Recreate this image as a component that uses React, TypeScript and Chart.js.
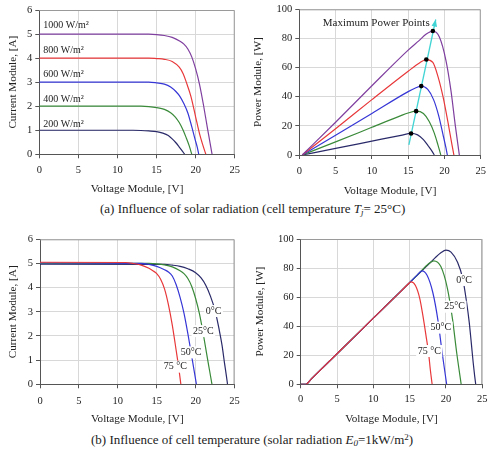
import React, { useEffect, useRef } from "react";
import { Chart, registerables } from "chart.js";
Chart.register(...registerables);

// ---------------- (a) Current vs Voltage, solar radiation ----------------
const A_IV_V1000 = [0, 14, 15, 16, 17, 18, 18.5, 19, 19.5, 20, 20.5, 21, 21.5, 21.8, 22.1];
const A_IV_I1000 = [5.0, 5.0, 4.98, 4.94, 4.86, 4.7, 4.58, 4.38, 4.05, 3.55, 2.9, 2.05, 1.1, 0.55, 0];
const A_IV_V800 = [0, 14, 15, 16, 17, 17.9, 18.4, 18.8, 19.4, 20.0, 20.5, 20.9, 21.3];
const A_IV_I800 = [4.0, 4.0, 3.98, 3.95, 3.86, 3.62, 3.35, 3.0, 2.4, 1.55, 0.85, 0.4, 0];
const A_IV_V600 = [0, 14, 15, 16, 16.8, 17.5, 18.0, 18.5, 19.0, 19.5, 19.9, 20.2, 20.4];
const A_IV_I600 = [3.0, 3.0, 2.97, 2.92, 2.8, 2.6, 2.4, 2.1, 1.72, 1.15, 0.65, 0.3, 0];
const A_IV_V400 = [0, 13, 14, 15, 16, 16.8, 17.4, 17.9, 18.4, 18.8, 19.2, 19.5];
const A_IV_I400 = [2.0, 2.0, 1.98, 1.94, 1.87, 1.73, 1.55, 1.32, 1.0, 0.68, 0.33, 0];
const A_IV_V200 = [0, 12, 13, 14, 15, 15.8, 16.5, 17.0, 17.5, 17.9, 18.3, 18.6];
const A_IV_I200 = [1.0, 1.0, 0.99, 0.97, 0.94, 0.88, 0.78, 0.64, 0.47, 0.3, 0.13, 0];
const A_IV_LABELS = ["1000 W/m²", "800 W/m²", "600 W/m²", "400 W/m²", "200 W/m²"];
const A_IV_LABEL_X = [0.5, 0.5, 0.5, 0.5, 0.5];
const A_IV_LABEL_Y = [5.38, 4.34, 3.34, 2.3, 1.26];

// ---------------- (a) Power vs Voltage, solar radiation ----------------
const A_PV_V1000 = [0.4, 5, 10, 15, 16.5, 17.5, 18.4, 19.3, 20.2, 20.9, 21.5, 22.05];
const A_PV_P1000 = [0, 22.5, 47.5, 72, 78.5, 83, 85, 81, 65, 44, 20, 0];
const A_PV_V800 = [0.4, 5, 10, 15, 16.5, 17.5, 18.4, 19.1, 19.8, 20.5, 21.0, 21.3];
const A_PV_P800 = [0, 18, 38, 57.5, 63, 65.5, 63.5, 54, 40, 22, 8, 0];
const A_PV_V600 = [0.4, 5, 10, 15, 16, 16.8, 17.7, 18.5, 19.2, 19.8, 20.2, 20.4];
const A_PV_P600 = [0, 13.5, 28.5, 43.5, 46, 47.3, 45, 38, 27, 14, 5, 0];
const A_PV_V400 = [0.4, 5, 10, 14, 15, 16.1, 17.1, 17.9, 18.6, 19.1, 19.5];
const A_PV_P400 = [0, 9, 19, 27, 28.8, 30.1, 28.5, 23, 15, 7, 0];
const A_PV_V200 = [0.4, 5, 10, 14, 15.4, 16.3, 17.1, 17.8, 18.3, 18.6];
const A_PV_P200 = [0, 4.5, 9.5, 13.5, 14.8, 13.8, 10.5, 6, 2.5, 0];
const MPP_V = [15.4, 16.1, 16.8, 17.5, 18.4];
const MPP_P = [14.8, 30.1, 47.3, 65.5, 85.1];
const MPP_ARROW_V = [15.1, 18.8];
const MPP_ARROW_P = [7, 93];
const A_PV_LABELS = ["Maximum Power Points"];
const A_PV_LABEL_X = [10.6];
const A_PV_LABEL_Y = [90.8];

// ---------------- (b) Current vs Voltage, cell temperature ----------------
const B_IV_V0 = [0, 16, 17, 18, 19, 20, 20.7, 21.3, 21.9, 22.5, 23.0, 23.4, 23.7, 23.95, 24.1];
const B_IV_I0 = [4.97, 4.96, 4.93, 4.88, 4.78, 4.62, 4.4, 4.1, 3.65, 3.05, 2.3, 1.6, 0.9, 0.35, 0];
const B_IV_V25 = [0, 14, 15, 16, 17, 18, 18.5, 19, 19.5, 20, 20.5, 21, 21.5, 21.8, 22.1];
const B_IV_I25 = [5.0, 5.0, 4.98, 4.94, 4.86, 4.7, 4.58, 4.38, 4.05, 3.55, 2.9, 2.05, 1.1, 0.55, 0];
const B_IV_V50 = [0, 13, 14, 15, 16, 16.5, 17, 17.5, 18, 18.5, 19, 19.5, 19.8, 20.1];
const B_IV_I50 = [5.02, 5.0, 4.96, 4.88, 4.74, 4.65, 4.48, 4.12, 3.6, 2.95, 2.1, 1.15, 0.58, 0];
const B_IV_V75 = [0, 11, 12, 13, 14, 14.5, 15, 15.5, 16, 16.5, 17, 17.5, 17.8, 18.1];
const B_IV_I75 = [5.05, 5.04, 5.0, 4.93, 4.8, 4.7, 4.58, 4.35, 3.95, 3.3, 2.45, 1.4, 0.75, 0];
const B_IV_LABELS = ["0°C", "25°C", "50°C", "75 °C"];
const B_IV_LABEL_X = [22.3, 21.0, 19.4, 17.4];
const B_IV_LABEL_Y = [3.03, 2.2, 1.32, 0.73];

// ---------------- (b) Power vs Voltage, cell temperature ----------------
const B_PV_V0 = [0, 0.7, 1.5, 5, 10, 15, 17.5, 18.5, 19.3, 20.0, 20.7, 21.6, 22.3, 22.8, 23.2, 23.5, 23.75, 23.95, 24.1];
const B_PV_P0 = [0, 0, 3.9, 21, 45.5, 70, 82, 87, 90.5, 92.3, 91, 84, 73, 58, 43, 28, 15, 6, 0];
const B_PV_V25 = [0, 0.7, 1.5, 5, 10, 15, 16.5, 17.5, 18.3, 19.3, 20.2, 20.9, 21.5, 22.1];
const B_PV_P25 = [0, 0, 3.9, 21, 45.5, 70, 77.5, 82.5, 85, 81, 66, 45, 21, 0];
const B_PV_V50 = [0, 0.7, 1.5, 5, 10, 15, 16, 16.7, 17.4, 18.2, 18.9, 19.5, 20.1];
const B_PV_P50 = [0, 0, 3.9, 21, 45.5, 70, 75, 78, 75, 63, 44, 21, 0];
const B_PV_V75 = [0, 0.7, 1.5, 5, 10, 14, 14.7, 15.2, 15.8, 16.4, 16.9, 17.3, 17.6, 17.85, 18.1];
const B_PV_P75 = [0, 0, 3.9, 21, 45.5, 65, 68.5, 70.5, 68, 59, 45, 32, 22, 10, 0];
const B_PV_LABELS = ["0°C", "25°C", "50°C", "75 °C"];
const B_PV_LABEL_X = [22.5, 21.2, 19.3, 17.7];
const B_PV_LABEL_Y = [71.8, 53.4, 39, 22.9];

// ---------------- styling ----------------
const PURPLE = "#7f3f9f";
const RED = "#e8383a";
const BLUE = "#3636d6";
const GREEN = "#3a8a3a";
const NAVY = "#2a2a6a";
const CYAN = "#40d4d4";
const SERIF = "'Liberation Serif', 'Times New Roman', serif";
const TEXT = "#222";

const pts = (xs: number[], ys: number[]) => xs.map((x, i) => ({ x, y: ys[i] }));

const curve = (xs: number[], ys: number[], color: string) => ({
  data: pts(xs, ys),
  showLine: true,
  borderColor: color,
  backgroundColor: color,
  borderWidth: 1.2,
  pointRadius: 0,
  cubicInterpolationMode: "monotone",
  fill: false,
});

const decoPlugin = {
  id: "panelDeco",
  beforeDatasetsDraw(chart: any) {
    const { ctx, chartArea: a } = chart;
    ctx.save();
    ctx.strokeStyle = "#9a9a9a";
    ctx.lineWidth = 1;
    ctx.beginPath();
    ctx.moveTo(a.left, a.top + 0.5);
    ctx.lineTo(a.right - 0.5, a.top + 0.5);
    ctx.lineTo(a.right - 0.5, a.bottom);
    ctx.stroke();
    ctx.restore();
  },
  afterDatasetsDraw(chart: any, _args: any, opts: any) {
    const { ctx } = chart;
    const xs = chart.scales.x;
    const ys = chart.scales.y;
    ctx.save();
    if (opts.arrow) {
      const [x0, x1] = opts.arrow.x;
      const [y0, y1] = opts.arrow.y;
      const px0 = xs.getPixelForValue(x0), py0 = ys.getPixelForValue(y0);
      const px1 = xs.getPixelForValue(x1), py1 = ys.getPixelForValue(y1);
      const ang = Math.atan2(py1 - py0, px1 - px0);
      const L = 7, W = 2.8;
      ctx.fillStyle = CYAN;
      ctx.beginPath();
      ctx.moveTo(px1, py1);
      ctx.lineTo(px1 - L * Math.cos(ang) + W * Math.sin(ang), py1 - L * Math.sin(ang) - W * Math.cos(ang));
      ctx.lineTo(px1 - L * Math.cos(ang) - W * Math.sin(ang), py1 - L * Math.sin(ang) + W * Math.cos(ang));
      ctx.closePath();
      ctx.fill();
    }
    (opts.labels || []).forEach((lb: any) => {
      const px = xs.getPixelForValue(lb.x);
      const py = ys.getPixelForValue(lb.y);
      ctx.font = `${lb.size}px ${SERIF}`;
      ctx.textBaseline = "middle";
      ctx.textAlign = lb.align;
      const w = ctx.measureText(lb.text).width;
      if (lb.bg) {
        const left = lb.align === "left" ? px : px - w / 2;
        ctx.fillStyle = "#fff";
        ctx.fillRect(left - 1.5, py - lb.size / 2 - 1, w + 3, lb.size + 2);
      }
      ctx.fillStyle = TEXT;
      ctx.fillText(lb.text, px, py);
    });
    ctx.restore();
  },
};

type PanelProps = {
  left: number; top: number; width: number; height: number;
  area: { l: number; r: number; t: number; b: number };
  datasets: any[]; yMax: number; yStep: number; yTitle: string;
  tickPadX: number; titlePadX: number; titlePadY: number;
  labels: any[]; arrow?: { x: number[]; y: number[] };
};

function Panel(p: PanelProps) {
  const ref = useRef<HTMLCanvasElement | null>(null);
  useEffect(() => {
    if (!ref.current) return;
    const tickFont = { family: SERIF, size: 10.5 };
    const titleFont = { family: SERIF, size: 11.2 };
    const chart = new Chart(ref.current, {
      type: "scatter",
      data: { datasets: p.datasets },
      options: {
        animation: false,
        responsive: false,
        devicePixelRatio: 1,
        layout: { padding: { left: 0, right: p.width - p.area.r, top: p.area.t, bottom: 0 } },
        plugins: {
          legend: { display: false },
          tooltip: { enabled: false },
          panelDeco: { labels: p.labels, arrow: p.arrow },
        } as any,
        scales: {
          x: {
            type: "linear",
            min: 0,
            max: 25,
            ticks: { stepSize: 5, padding: p.tickPadX, font: tickFont, color: TEXT },
            grid: { color: "#d8d8d8", tickColor: "#555", tickLength: 4 },
            border: { color: "#555" },
            title: {
              display: true, text: "Voltage Module, [V]", font: titleFont, color: TEXT,
              padding: { top: 0, bottom: p.titlePadX },
            },
            afterFit: (s: any) => { s.height = p.height - p.area.b; },
          },
          y: {
            type: "linear",
            min: 0,
            max: p.yMax,
            ticks: { stepSize: p.yStep, padding: 3, font: tickFont, color: TEXT },
            grid: { color: "#d8d8d8", tickColor: "#555", tickLength: 4 },
            border: { color: "#555" },
            title: {
              display: true, text: p.yTitle, font: titleFont, color: TEXT,
              padding: { top: p.titlePadY, bottom: 0 },
            },
            afterFit: (s: any) => { s.width = p.area.l; },
          },
        },
      } as any,
      plugins: [decoPlugin],
    });
    return () => chart.destroy();
  }, []);
  return (
    <canvas
      ref={ref}
      width={p.width}
      height={p.height}
      style={{ position: "absolute", left: p.left, top: p.top, width: p.width, height: p.height }}
    />
  );
}

const mkLabels = (texts: string[], xs: number[], ys: number[], align: string, bg: boolean, size: number) =>
  texts.map((t, i) => ({ text: t, x: xs[i], y: ys[i], align, bg, size }));

export default function App() {
  const aIV = [
    curve(A_IV_V1000, A_IV_I1000, PURPLE),
    curve(A_IV_V800, A_IV_I800, RED),
    curve(A_IV_V600, A_IV_I600, BLUE),
    curve(A_IV_V400, A_IV_I400, GREEN),
    curve(A_IV_V200, A_IV_I200, NAVY),
  ];
  const aPV = [
    {
      data: pts(MPP_V, MPP_P), showLine: false, pointRadius: 2.3,
      pointBackgroundColor: "#000", pointBorderColor: "#000", pointBorderWidth: 0,
    },
    {
      data: pts(MPP_ARROW_V, MPP_ARROW_P), showLine: true, borderColor: CYAN,
      borderWidth: 1.3, pointRadius: 0,
    },
    curve(A_PV_V1000, A_PV_P1000, PURPLE),
    curve(A_PV_V800, A_PV_P800, RED),
    curve(A_PV_V600, A_PV_P600, BLUE),
    curve(A_PV_V400, A_PV_P400, GREEN),
    curve(A_PV_V200, A_PV_P200, NAVY),
  ];
  const bIV = [
    curve(B_IV_V75, B_IV_I75, RED),
    curve(B_IV_V50, B_IV_I50, BLUE),
    curve(B_IV_V25, B_IV_I25, GREEN),
    curve(B_IV_V0, B_IV_I0, NAVY),
  ];
  const bPV = [
    curve(B_PV_V75, B_PV_P75, RED),
    curve(B_PV_V50, B_PV_P50, BLUE),
    curve(B_PV_V25, B_PV_P25, GREEN),
    curve(B_PV_V0, B_PV_P0, NAVY),
  ];
  const capStyle: React.CSSProperties = {
    position: "absolute", fontFamily: SERIF, fontSize: 13, color: TEXT,
    lineHeight: "15px", whiteSpace: "nowrap",
  };
  return (
    <div style={{ position: "absolute", left: 0, top: 0, width: 492, height: 450, background: "#fff", overflow: "hidden" }}>
      <Panel left={0} top={0} width={246} height={200}
        area={{ l: 39.3, r: 236, t: 10, b: 154.3 }}
        datasets={aIV} yMax={6} yStep={1} yTitle="Current Module, [A]"
        tickPadX={6} titlePadX={4.4} titlePadY={6.4}
        labels={mkLabels(A_IV_LABELS, A_IV_LABEL_X, A_IV_LABEL_Y, "left", false, 10)} />
      <Panel left={246} top={0} width={246} height={200}
        area={{ l: 53.3, r: 239.7, t: 9, b: 155 }}
        datasets={aPV} yMax={100} yStep={20} yTitle="Power Module, [W]"
        tickPadX={6} titlePadX={2.4} titlePadY={5.7}
        labels={mkLabels(A_PV_LABELS, A_PV_LABEL_X, A_PV_LABEL_Y, "center", false, 11)}
        arrow={{ x: MPP_ARROW_V, y: MPP_ARROW_P }} />
      <div style={{ ...capStyle, left: 100, top: 201 }}>
        (a) Influence of solar radiation (cell temperature <i>T</i>
        <sub style={{ fontSize: 9, verticalAlign: "-2px", lineHeight: 0 }}><i>j</i></sub>= 25°C)
      </div>
      <Panel left={0} top={228} width={246} height={204}
        area={{ l: 40, r: 236, t: 11.3, b: 156.3 }}
        datasets={bIV} yMax={6} yStep={1} yTitle="Current Module, [A]"
        tickPadX={6.2} titlePadX={6.4} titlePadY={6.7}
        labels={mkLabels(B_IV_LABELS, B_IV_LABEL_X, B_IV_LABEL_Y, "center", true, 10)} />
      <Panel left={246} top={228} width={246} height={204}
        area={{ l: 54.7, r: 239.7, t: 11, b: 156.3 }}
        datasets={bPV} yMax={100} yStep={20} yTitle="Power Module, [W]"
        tickPadX={4.5} titlePadX={6.1} titlePadY={7.4}
        labels={mkLabels(B_PV_LABELS, B_PV_LABEL_X, B_PV_LABEL_Y, "center", true, 10)} />
      <div style={{ ...capStyle, left: 91, top: 432 }}>
        (b) Influence of cell temperature (solar radiation <i>E</i>
        <sub style={{ fontSize: 9, verticalAlign: "-2px", lineHeight: 0 }}><i>0</i></sub>=1kW/m
        <sup style={{ fontSize: 9, verticalAlign: "4px", lineHeight: 0 }}>2</sup>)
      </div>
    </div>
  );
}
